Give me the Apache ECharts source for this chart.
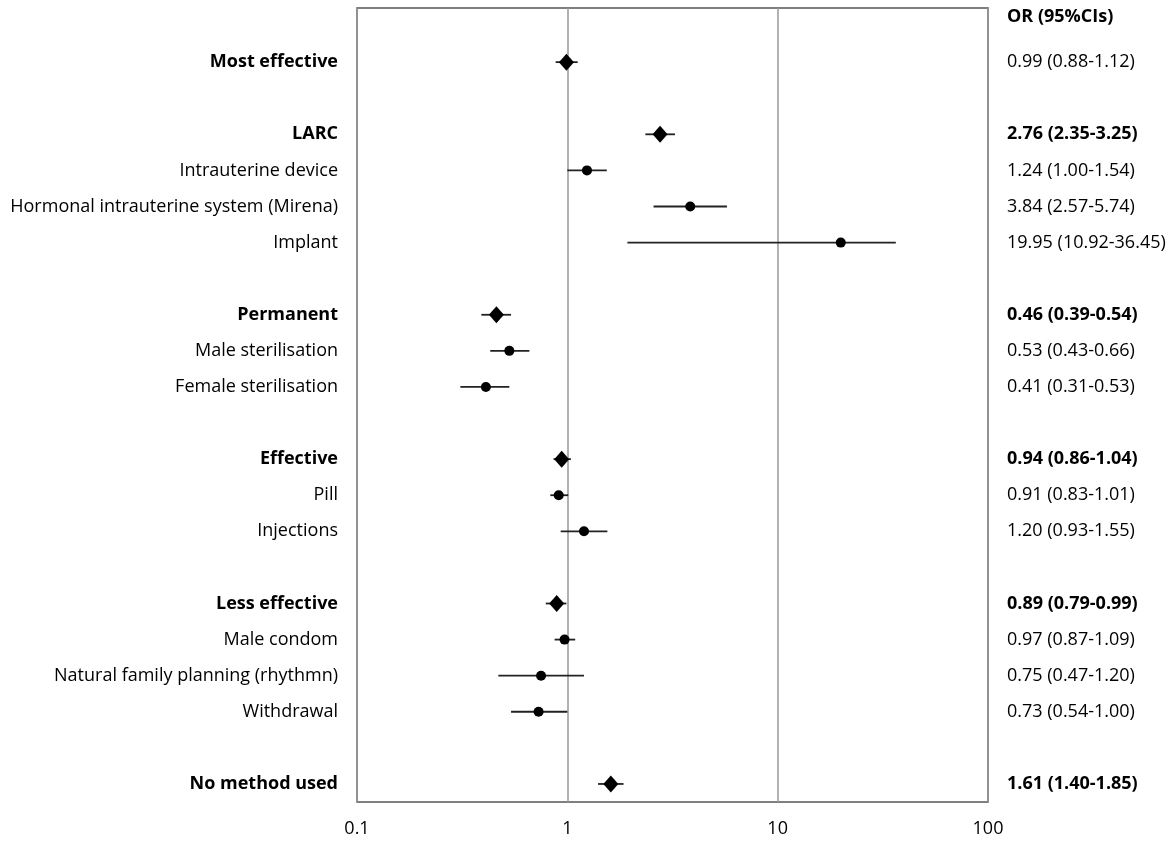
<!DOCTYPE html>
<html><head><meta charset="utf-8">
<script src="https://cdn.jsdelivr.net/npm/echarts@6/dist/echarts.min.js"></script>
<style>html,body{margin:0;padding:0;background:#fff}#c{width:1175px;height:842px}</style>
</head><body><div id="c"></div>
<script>
const categories = ['', 'Most effective', '', 'LARC', 'Intrauterine device', 'Hormonal intrauterine system (Mirena)', 'Implant', '', 'Permanent', 'Male sterilisation', 'Female sterilisation', '', 'Effective', 'Pill', 'Injections', '', 'Less effective', 'Male condom', 'Natural family planning (rhythmn)', 'Withdrawal', '', 'No method used'];
const isSummary = [0,1,0,1,0,0,0,0,1,0,0,0,1,0,0,0,1,0,0,0,0,1];
const boldCI    = [1,0,0,1,0,0,0,0,1,0,0,0,1,0,0,0,1,0,0,0,0,1];
const orValues = [null,0.99,null,2.76,1.24,3.84,19.95,null,0.46,0.53,0.41,null,0.94,0.91,1.20,null,0.89,0.97,0.75,0.73,null,1.61];
const ciLow  = [null,0.88,null,2.35,1.00,2.57,1.93,null,0.39,0.43,0.31,null,0.86,0.83,0.93,null,0.79,0.87,0.47,0.54,null,1.40];
const ciHigh = [null,1.12,null,3.25,1.54,5.74,36.45,null,0.54,0.66,0.53,null,1.04,1.01,1.55,null,0.99,1.09,1.20,1.00,null,1.85];
const ciText = ['OR (95%CIs)','0.99 (0.88-1.12)','','2.76 (2.35-3.25)','1.24 (1.00-1.54)','3.84 (2.57-5.74)','19.95 (10.92-36.45)','','0.46 (0.39-0.54)','0.53 (0.43-0.66)','0.41 (0.31-0.53)','','0.94 (0.86-1.04)','0.91 (0.83-1.01)','1.20 (0.93-1.55)','','0.89 (0.79-0.99)','0.97 (0.87-1.09)','0.75 (0.47-1.20)','0.73 (0.54-1.00)','','1.61 (1.40-1.85)'];
const xTicks = [0.1, 1, 10, 100];

const FONT = 'Open Sans';
const FS = 18;
const whiskers = [], diamonds = [], circles = [];
categories.forEach((c, i) => {
  if (orValues[i] == null) return;
  whiskers.push([ciLow[i], ciHigh[i], i]);
  if (isSummary[i]) diamonds.push([orValues[i], i]); else circles.push([orValues[i], i]);
});

const chart = echarts.init(document.getElementById('c'));
chart.setOption({
  animation: false,
  textStyle: { fontFamily: FONT },
  grid: { left: 357, right: 187, top: 8, bottom: 40, show: true, borderColor: '#555', borderWidth: 1.5, backgroundColor: 'transparent' },
  xAxis: {
    type: 'log', logBase: 10, min: 0.1, max: 100,
    axisLine: { show: false },
    axisTick: { show: false },
    splitLine: { show: true, lineStyle: { color: '#999', width: 1.5 } },
    axisLabel: { color: '#000', fontSize: FS, fontFamily: FONT, margin: 18,
      formatter: v => { const m = xTicks.find(t => Math.abs(t - v) / t < 1e-6); return m == null ? '' : String(m); } }
  },
  yAxis: [{
    type: 'category', data: categories, inverse: true,
    axisLine: { show: false }, axisTick: { show: false }, splitLine: { show: false },
    axisLabel: { margin: 19, fontSize: FS, color: '#000', fontFamily: FONT, interval: 0,
      formatter: (v, i) => isSummary[i] ? '{b|' + v + '}' : v,
      rich: { b: { fontWeight: 'bold', fontSize: FS, fontFamily: FONT, color: '#000' } } }
  }, {
    type: 'category', data: ciText, inverse: true, position: 'right',
    axisLine: { show: false }, axisTick: { show: false }, splitLine: { show: false },
    axisLabel: { margin: 19, fontSize: FS, color: '#000', fontFamily: FONT, interval: 0, align: 'left',
      formatter: (v, i) => i === 0 ? '{h|' + v + '}' : (boldCI[i] ? '{b|' + v + '}' : v),
      rich: {
        b: { fontWeight: 'bold', fontSize: FS, fontFamily: FONT, color: '#000' },
        h: { fontWeight: 'bold', fontSize: FS, fontFamily: FONT, color: '#000', padding: [0, 0, 18, 0] }
      } }
  }],
  series: [{
    type: 'custom', data: whiskers, encode: { x: [0, 1], y: 2 },
    renderItem: (params, api) => {
      const a = api.coord([api.value(0), api.value(2)]);
      const b = api.coord([api.value(1), api.value(2)]);
      return { type: 'line', shape: { x1: a[0], y1: a[1], x2: b[0], y2: b[1] }, style: { stroke: '#222', lineWidth: 1.8 } };
    }, z: 2
  }, {
    type: 'scatter', data: circles, symbol: 'circle', symbolSize: 10,
    itemStyle: { color: '#000', opacity: 1 }, z: 3
  }, {
    type: 'scatter', data: diamonds, symbol: 'diamond', symbolSize: [15, 17],
    itemStyle: { color: '#000', opacity: 1 }, z: 3
  }]
});
</script></body></html>
